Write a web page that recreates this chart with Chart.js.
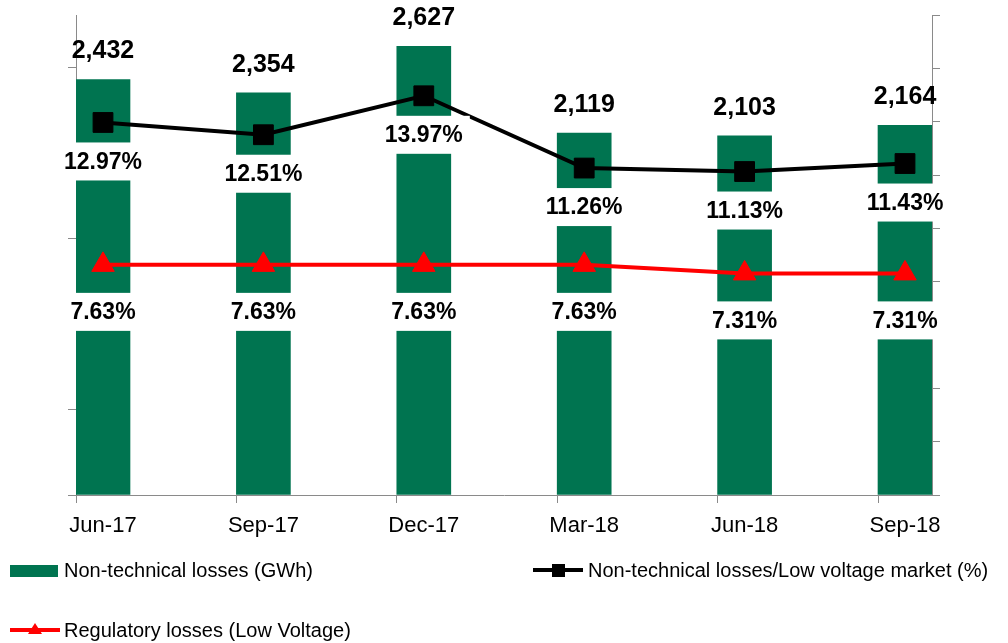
<!DOCTYPE html>
<html>
<head>
<meta charset="utf-8">
<script src="https://cdn.jsdelivr.net/npm/chart.js@4.4.1/dist/chart.umd.min.js"></script>
<style>
  html, body { margin: 0; padding: 0; background: #fff; }
  #wrap { width: 1008px; height: 643px; position: relative; }
</style>
</head>
<body>
<div id="wrap"><canvas id="lossChart" width="1008" height="643"></canvas></div>
<script>
const categories = ['Jun-17', 'Sep-17', 'Dec-17', 'Mar-18', 'Jun-18', 'Sep-18'];
const nonTechGwh = [2432, 2354, 2627, 2119, 2103, 2164];
const nonTechPct = [12.97, 12.51, 13.97, 11.26, 11.13, 11.43];
const regulatoryPct = [7.63, 7.63, 7.63, 7.63, 7.31, 7.31];
const gwhTicks = [0, 500, 1000, 1500, 2000, 2500];

const FONT = '"Liberation Sans", Arial, sans-serif';
const GREEN = '#007450';
const AXIS = '#8a8a8a';
const HALF_BAR = 0.1683; // half bar width in category units

const toPoints = arr => arr.map((v, i) => ({ x: i, y: v }));

// value labels: bar totals above, percentages below points on white boxes
const labelPlugin = {
    id: 'labels',
    afterDraw(chart) {
        const ctx = chart.ctx;
        ctx.save();
        ctx.textAlign = 'center';
        ctx.textBaseline = 'middle';

        ctx.font = 'bold 25px ' + FONT;
        chart.getDatasetMeta(0).data.forEach((bar, i) => {
            ctx.fillStyle = '#000';
            ctx.fillText(nonTechGwh[i].toLocaleString('en-US'), bar.x, bar.y - 28);
        });

        ctx.font = 'bold 23px ' + FONT;
        const pctLabels = (idx, values, offset) => {
            chart.getDatasetMeta(idx).data.forEach((pt, i) => {
                const text = values[i].toFixed(2) + '%';
                const w = ctx.measureText(text).width + 14;
                const cy = pt.y + offset;
                ctx.fillStyle = '#fff';
                ctx.fillRect(pt.x - w / 2, cy - 19, w, 38);
                ctx.fillStyle = '#000';
                ctx.fillText(text, pt.x, cy + 1);
            });
        };
        pctLabels(1, nonTechPct, 39);
        pctLabels(2, regulatoryPct, 47);

        // legend
        ctx.font = '20px ' + FONT;
        ctx.textAlign = 'left';
        ctx.fillStyle = GREEN;
        ctx.fillRect(10, 565, 48, 12);
        ctx.fillStyle = '#000';
        ctx.fillText('Non-technical losses (GWh)', 64, 571);

        ctx.strokeStyle = '#000';
        ctx.lineWidth = 4;
        ctx.beginPath();
        ctx.moveTo(533, 570);
        ctx.lineTo(583, 570);
        ctx.stroke();
        ctx.fillRect(552, 564, 13, 13);
        ctx.fillText('Non-technical losses/Low voltage market (%)', 588, 571);

        ctx.strokeStyle = '#ff0000';
        ctx.beginPath();
        ctx.moveTo(10, 630);
        ctx.lineTo(60, 630);
        ctx.stroke();
        ctx.fillStyle = '#ff0000';
        ctx.beginPath();
        ctx.moveTo(35, 623);
        ctx.lineTo(42, 634);
        ctx.lineTo(28, 634);
        ctx.closePath();
        ctx.fill();
        ctx.fillStyle = '#000';
        ctx.fillText('Regulatory losses (Low Voltage)', 64, 631);
        ctx.restore();
    }
};

new Chart(document.getElementById('lossChart'), {
    type: 'bar',
    data: {
        datasets: [{
            type: 'bar',
            label: 'Non-technical losses (GWh)',
            data: toPoints(nonTechGwh),
            backgroundColor: GREEN,
            borderWidth: 0,
            barThickness: 54,
            yAxisID: 'y',
            order: 3,
        }, {
            type: 'line',
            label: 'Non-technical losses/Low voltage market (%)',
            data: toPoints(nonTechPct),
            borderColor: '#000',
            borderWidth: 4,
            pointStyle: 'rect',
            pointRadius: 14,
            pointBackgroundColor: '#000',
            pointBorderColor: '#000',
            pointBorderWidth: 1,
            yAxisID: 'y1',
            order: 2,
        }, {
            type: 'line',
            label: 'Regulatory losses (Low Voltage)',
            data: toPoints(regulatoryPct),
            borderColor: '#ff0000',
            borderWidth: 4,
            pointStyle: 'triangle',
            pointRadius: 13,
            pointBackgroundColor: '#ff0000',
            pointBorderColor: '#ff0000',
            pointBorderWidth: 1,
            yAxisID: 'y1',
            order: 1,
        }]
    },
    options: {
        responsive: false,
        animation: false,
        maintainAspectRatio: false,
        layout: { padding: { top: 15, left: 0, right: 0, bottom: 0 } },
        plugins: {
            legend: { display: false },
            tooltip: { enabled: false },
        },
        scales: {
            x: {
                type: 'linear',
                offset: false,
                min: -HALF_BAR,
                max: categories.length - 1 + HALF_BAR,
                afterBuildTicks: scale => {
                    scale.ticks = categories.map((c, i) => ({ value: i - HALF_BAR }));
                },
                afterFit: scale => { scale.height = 148; },
                ticks: {
                    autoSkip: false,
                    maxRotation: 0,
                    labelOffset: 27,
                    padding: 10,
                    color: '#000',
                    font: { family: FONT, size: 22 },
                    callback: (value, index) => categories[index],
                },
                grid: { offset: false, drawOnChartArea: false, tickLength: 8, color: AXIS },
                border: { color: AXIS, width: 1 },
            },
            y: {
                position: 'left',
                min: 0,
                max: 2810,
                afterBuildTicks: scale => {
                    scale.ticks = gwhTicks.map(v => ({ value: v }));
                },
                afterFit: scale => { scale.width = 76; },
                ticks: { display: false },
                grid: { drawOnChartArea: false, tickLength: 8, color: AXIS },
                border: { color: AXIS, width: 1 },
            },
            y1: {
                position: 'right',
                min: -1,
                max: 17,
                afterFit: scale => { scale.width = 76; },
                ticks: { display: false, stepSize: 2 },
                grid: { drawOnChartArea: false, tickLength: 8, color: AXIS },
                border: { color: AXIS, width: 1 },
            },
        },
    },
    plugins: [labelPlugin],
});
</script>
</body>
</html>
